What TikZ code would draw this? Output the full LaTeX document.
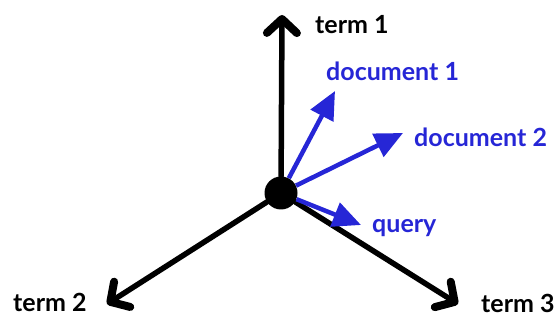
\documentclass[tikz,border=0pt]{standalone}
\usepackage{fontspec}
\setmainfont{Lato}
\usetikzlibrary{arrows.meta, positioning}
\definecolor{docblue}{RGB}{38,38,214}

\begin{document}
\begin{tikzpicture}[x=1pt, y=-1pt, font=\bfseries\fontsize{25}{29}\selectfont,
	axis/.style={line width=5.5pt, line cap=round, -{Straight Barb[length=14pt, width=30pt, line width=8pt, line cap=round, line join=round]}},
	vec/.style={docblue, line width=4.5pt, -{Triangle[length=28pt, width=25pt]}},
	lbl/.style={anchor=west, inner sep=0pt}]
		\useasboundingbox (0,0) rectangle (557,320);
		\coordinate	(t1)	at (282,15);
		\coordinate	(t2)	at (107,304);
		\coordinate	(t3)	at (458,304);
		\coordinate	(d1)	at (335,91);
		\coordinate	(d2)	at (403,133);
		\coordinate	(q)		at (361,225);
		\node[circle, fill, minimum size=33pt, inner sep=0pt]	(o)	at (281,193) {};
		\path
		(o)	edge[axis]	(t1)
		(o)	edge[axis]	(t2)
		(o)	edge[axis]	(t3)
		(o)	edge[vec]	(d1)
		(o)	edge[vec]	(d2)
		(o)	edge[vec]	(q);
		\node[lbl]	(term1)	at (315,25)	{term 1};
		\node[lbl, docblue]	(doc1)	at (326,71)	{document 1};
		\node[lbl, docblue]	(doc2)	at (414,137)	{document 2};
		\node[lbl, docblue]	(query)	at (372,228)	{query};
		\node[lbl]	(term2)	at (13,302)	{term 2};
		\node[lbl]	(term3)	at (481,303)	{term 3};
\end{tikzpicture}
\end{document}
